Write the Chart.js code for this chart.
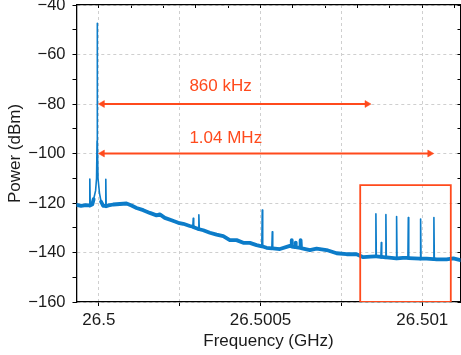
<!DOCTYPE html>
<html>
<head>
<meta charset="utf-8">
<script src="https://cdn.jsdelivr.net/npm/chart.js@4/dist/chart.umd.min.js"></script>
<style>
  html, body { margin: 0; padding: 0; background: #fff; overflow: hidden; }
  #wrap { width: 461px; height: 355px; overflow: hidden; }
</style>
</head>
<body>
<div id="wrap"><canvas id="c" width="465" height="355"></canvas></div>
<script>
// ---- data ----
const freqGHz = [
  26.499931, 26.499945, 26.49996, 26.499971, 26.4999722, 26.4999734, 26.49998, 26.499984,
  26.49999, 26.499993, 26.4999945, 26.4999951, 26.4999957, 26.4999975, 26.500002, 26.500007,
  26.5000136, 26.5000204, 26.5000216, 26.5000228, 26.50003, 26.5000445, 26.5000649, 26.5000856,
  26.500101, 26.5001166, 26.5001373, 26.5001577, 26.5001784, 26.5001886, 26.500204, 26.5002248,
  26.5002455, 26.500261, 26.5002814, 26.5002905, 26.5002919, 26.5002933, 26.5003078, 26.5003092,
  26.5003106, 26.5003228, 26.5003432, 26.500364, 26.5003846, 26.500405, 26.5004258, 26.5004465,
  26.5004669, 26.5004876, 26.5005038, 26.5005052, 26.5005066, 26.5005185, 26.5005348, 26.5005362,
  26.5005376, 26.5005597, 26.5005906, 26.5005945, 26.5005958, 26.500597, 26.5006067, 26.500608,
  26.5006093, 26.5006224, 26.5006237, 26.500625, 26.5006524, 26.5006731, 26.500704, 26.500735,
  26.5007659, 26.5007968, 26.5008175, 26.50084, 26.5008552, 26.5008565, 26.5008578, 26.5008719,
  26.5008732, 26.5008745, 26.5008861, 26.5008874, 26.5008887, 26.500905, 26.5009192, 26.5009205,
  26.5009218, 26.50094, 26.5009554, 26.5009567, 26.500958, 26.500975, 26.5009934, 26.5009947,
  26.500996, 26.5010133, 26.5010345, 26.5010358, 26.5010371, 26.5010442, 26.501075, 26.5010958,
  26.5011215
];
const powerDbm = [
  -120.8, -121.2, -120.9, -121.0, -110.3, -121.0, -120.5, -118.5,
  -115.0, -110.0, -95.0, -47.4, -95.0, -110.0, -116.0, -119.5,
  -121.2, -121.2, -110.4, -121.3, -121.0, -120.6, -120.4, -120.2,
  -121.0, -122.0, -122.9, -124.0, -125.0, -124.6, -126.0, -127.0,
  -128.0, -128.4, -129.3, -129.6, -126.2, -129.8, -130.5, -124.8,
  -130.6, -131.0, -132.0, -132.8, -133.4, -135.0, -135.0, -136.1,
  -136.1, -137.0, -137.5, -122.8, -137.6, -138.1, -138.3, -131.6,
  -138.3, -138.6, -137.3, -137.5, -135.0, -137.6, -137.8, -136.0,
  -137.8, -138.1, -135.0, -138.2, -139.0, -138.4, -139.0, -140.3,
  -140.7, -140.7, -141.9, -141.7, -141.6, -124.4, -141.6, -141.8,
  -136.0, -141.8, -142.0, -124.7, -142.0, -142.2, -142.4, -125.5,
  -142.4, -142.2, -142.2, -125.9, -142.3, -142.4, -142.5, -126.5,
  -142.5, -142.5, -142.7, -125.9, -142.7, -142.8, -142.8, -142.4,
  -143.2
];

// arrows (shaft ends, GHz) and their levels (dBm)
const arrowStartGHz = [26.500011, 26.500011];
const arrowEndGHz   = [26.500829, 26.501023];
const arrowLevelDbm = [-80, -100];
const arrowLabels   = ['860 kHz', '1.04 MHz'];
const labelXGHz     = [26.50028, 26.50028];
const labelYDbm     = [-74.75, -95.9];

// highlight box
const boxXGHz = [26.500808, 26.500808, 26.501088, 26.501088, 26.500808];
const boxYDbm = [-160, -112.8, -112.8, -160, -160];

// axes
const xMin = 26.499931, xMax = 26.501118;
const yMin = -160, yMax = -40;
const xTickValues = [26.5, 26.50025, 26.5005, 26.50075, 26.501];
const xTickLabels = ['26.5', '', '26.5005', '', '26.501'];
const xTopTickValues = [26.5, 26.5001, 26.5002, 26.5003, 26.5004, 26.5005, 26.5006, 26.5007, 26.5008, 26.5009, 26.501, 26.5011];
const yTickValues = [-160, -150, -140, -130, -120, -110, -100, -90, -80, -70, -60, -50, -40];
const yTickLabels = ['\u2212160', '', '\u2212140', '', '\u2212120', '', '\u2212100', '', '\u221280', '', '\u221260', '', '\u221240'];

// ---- chart ----
const RED = '#ff4a1c';
const BLUE = '#0c7cc9';
const GRID = '#cfcfcf';
Chart.defaults.font.family = '"Liberation Sans", Arial, sans-serif';
Chart.defaults.color = '#1a1a1a';

const noPad = (s) => { s.paddingTop = 0; s.paddingBottom = 0; s.paddingLeft = 0; s.paddingRight = 0; };

const arrowDatasets = arrowLevelDbm.map((lvl, i) => ({
  type: 'line',
  data: [{x: arrowStartGHz[i], y: lvl}, {x: arrowEndGHz[i], y: lvl}],
  borderColor: RED,
  borderWidth: 1.8,
  pointStyle: 'triangle',
  pointRotation: [-90, 90],
  pointRadius: 4,
  pointBackgroundColor: RED,
  pointBorderColor: RED,
  pointBorderWidth: 0.5,
  tension: 0
}));

const labelPlugin = {
  id: 'arrowLabels',
  afterDatasetsDraw(chart) {
    const {ctx, scales} = chart;
    ctx.save();
    ctx.fillStyle = RED;
    ctx.font = '17px "Liberation Sans", Arial, sans-serif';
    ctx.textAlign = 'left';
    ctx.textBaseline = 'alphabetic';
    arrowLabels.forEach((t, i) => {
      ctx.fillText(t, scales.x.getPixelForValue(labelXGHz[i]), scales.y.getPixelForValue(labelYDbm[i]));
    });
    ctx.restore();
  }
};

new Chart(document.getElementById('c'), {
  type: 'line',
  data: {
    datasets: [
      ...arrowDatasets,
      {
        data: boxXGHz.map((x, i) => ({x, y: boxYDbm[i]})),
        borderColor: RED,
        borderWidth: 1.8,
        pointRadius: 0,
        tension: 0
      },
      {
        data: freqGHz.map((x, i) => ({x, y: powerDbm[i]})),
        borderColor: BLUE,
        borderWidth: 3.8,
        borderCapStyle: 'round',
        borderJoinStyle: 'round',
        pointRadius: 0,
        tension: 0,
        segment: {
          borderWidth: (c) => (Math.abs(c.p1.y - c.p0.y) > 8 && Math.abs(c.p1.x - c.p0.x) < 3) ? 1.6 : 3.8
        }
      }
    ]
  },
  options: {
    responsive: false,
    devicePixelRatio: 1,
    animation: false,
    layout: { padding: { left: 0, right: 1, top: 5, bottom: 0 } },
    plugins: { legend: { display: false }, tooltip: { enabled: false } },
    scales: {
      x: {
        type: 'linear', position: 'bottom', min: xMin, max: xMax,
        afterBuildTicks: (s) => { s.ticks = xTickValues.map(v => ({value: v})); },
        afterFit: (s) => { s.height = 53; noPad(s); },
        ticks: {
          autoSkip: false, maxRotation: 0, padding: 4,
          font: { size: 17 }, color: '#1a1a1a',
          callback: (v, i) => xTickLabels[i]
        },
        grid: { color: GRID, tickColor: '#000', tickLength: 4, lineWidth: 1 },
        border: { color: '#000', width: 1.3, dash: [3, 3] },
        title: { display: true, text: 'Frequency (GHz)', font: { size: 17 }, color: '#1a1a1a', padding: { top: 2, bottom: 3 } }
      },
      x2: {
        type: 'linear', position: 'top', min: xMin, max: xMax,
        afterBuildTicks: (s) => { s.ticks = xTopTickValues.map(v => ({value: v})); },
        afterFit: (s) => { s.height = 0; noPad(s); },
        ticks: { display: false },
        grid: { drawOnChartArea: false, tickColor: '#000', tickLength: -3 },
        border: { color: '#000', width: 1.3 }
      },
      y: {
        type: 'linear', position: 'left', min: yMin, max: yMax,
        afterBuildTicks: (s) => { s.ticks = yTickValues.map(v => ({value: v})); },
        afterFit: (s) => { s.width = 76.5; noPad(s); },
        ticks: {
          autoSkip: false, padding: 7,
          font: { size: 16.5 }, color: '#1a1a1a',
          callback: (v, i) => yTickLabels[i]
        },
        grid: {
          color: (c) => (c.tick && c.tick.value % 20 === 0) ? GRID : 'rgba(0,0,0,0)',
          tickColor: '#000', tickLength: 4, lineWidth: 1
        },
        border: { color: '#000', width: 1.3, dash: [3, 3] },
        title: { display: true, text: 'Power (dBm)', font: { size: 17 }, color: '#1a1a1a', padding: { top: 5, bottom: 2 } }
      },
      y2: {
        type: 'linear', position: 'right', min: yMin, max: yMax,
        afterBuildTicks: (s) => { s.ticks = yTickValues.map(v => ({value: v})); },
        afterFit: (s) => { s.width = 0; noPad(s); },
        ticks: { display: false },
        grid: { drawOnChartArea: false, tickColor: '#000', tickLength: -3 },
        border: { color: '#000', width: 1.3 }
      }
    }
  },
  plugins: [labelPlugin]
});
</script>
</body>
</html>
